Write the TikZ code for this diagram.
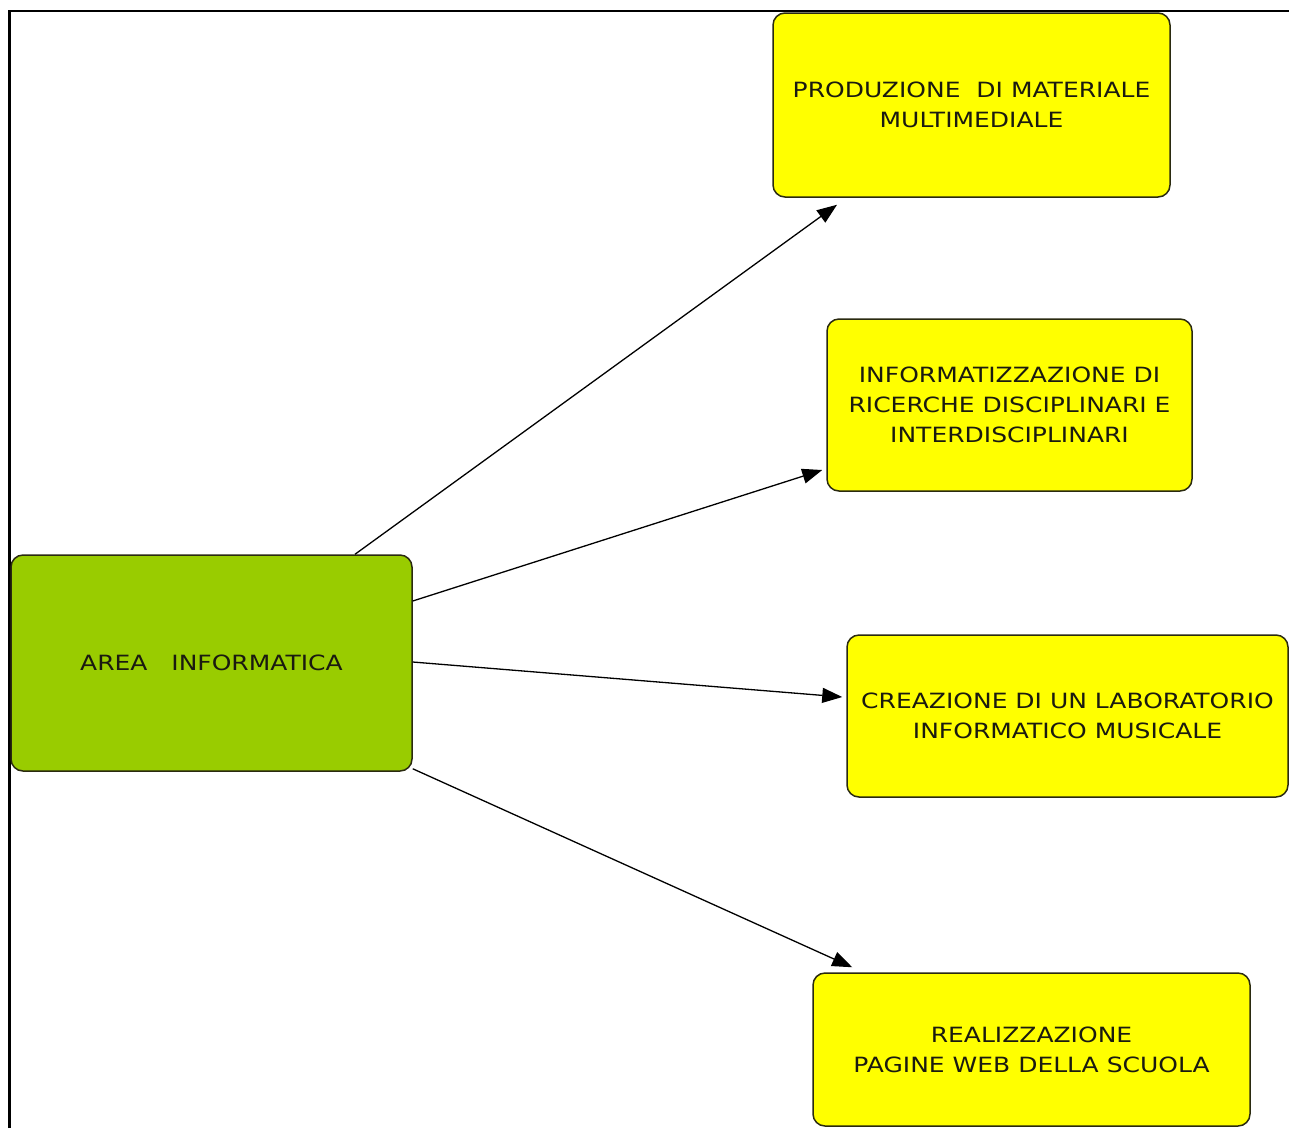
\documentclass[tikz,border=0pt]{standalone}
\usepackage{fontspec}
\setmainfont{DejaVu Sans}[FakeStretch=1.19]
\usetikzlibrary{arrows.meta}
\definecolor{boxyellow}{HTML}{FFFF00}
\definecolor{boxgreen}{HTML}{99CC00}
\definecolor{boxline}{HTML}{2A2A10}
\definecolor{txt}{HTML}{1A1A10}
\begin{document}
\begin{tikzpicture}[x=1pt,y=-1pt,
  box/.style={draw=boxline, line width=1.5pt, rounded corners=12pt, align=center,
    text=txt, font=\fontsize{21}{30}\selectfont, inner sep=0pt},
  ybox/.style={box, fill=boxyellow},
  gbox/.style={box, fill=boxgreen},
  link/.style={line width=1.3pt, -{Triangle[length=20pt,width=15pt]}}]
\useasboundingbox (0,0) rectangle (1289,1128);
\fill[white] (0,0) rectangle (1289,1128);
\draw[line width=2.8pt] (9.5,1128) -- (9.5,11) -- (1289,11);

\node[gbox, minimum width=401pt, minimum height=216pt] (area) at (211.5,663) {AREA\ \ \ INFORMATICA};
\node[ybox, minimum width=397pt, minimum height=184pt] (prod) at (971.5,105) {PRODUZIONE\ \ DI MATERIALE\\MULTIMEDIALE};
\node[ybox, minimum width=365pt, minimum height=172pt] (info) at (1009.5,405) {INFORMATIZZAZIONE DI\\RICERCHE DISCIPLINARI E\\INTERDISCIPLINARI};
\node[ybox, minimum width=441pt, minimum height=162pt] (crea) at (1067.5,716) {CREAZIONE DI UN LABORATORIO\\INFORMATICO MUSICALE};
\node[ybox, minimum width=437pt, minimum height=153pt] (real) at (1031.5,1049.5) {REALIZZAZIONE\\PAGINE WEB DELLA SCUOLA};

\draw[link] ([xshift=143.5pt]area.north) -- ([xshift=-134.5pt,yshift=-7pt]prod.south);
\draw[link] ([yshift=62pt]area.east) -- ([xshift=-4pt,yshift=-65pt]info.west);
\draw[link] ([yshift=1pt]area.east) -- ([xshift=-4pt,yshift=19pt]crea.west);
\draw[link] ([yshift=3pt]area.south east) -- ([xshift=40pt,yshift=5pt]real.north west);
\end{tikzpicture}
\end{document}
